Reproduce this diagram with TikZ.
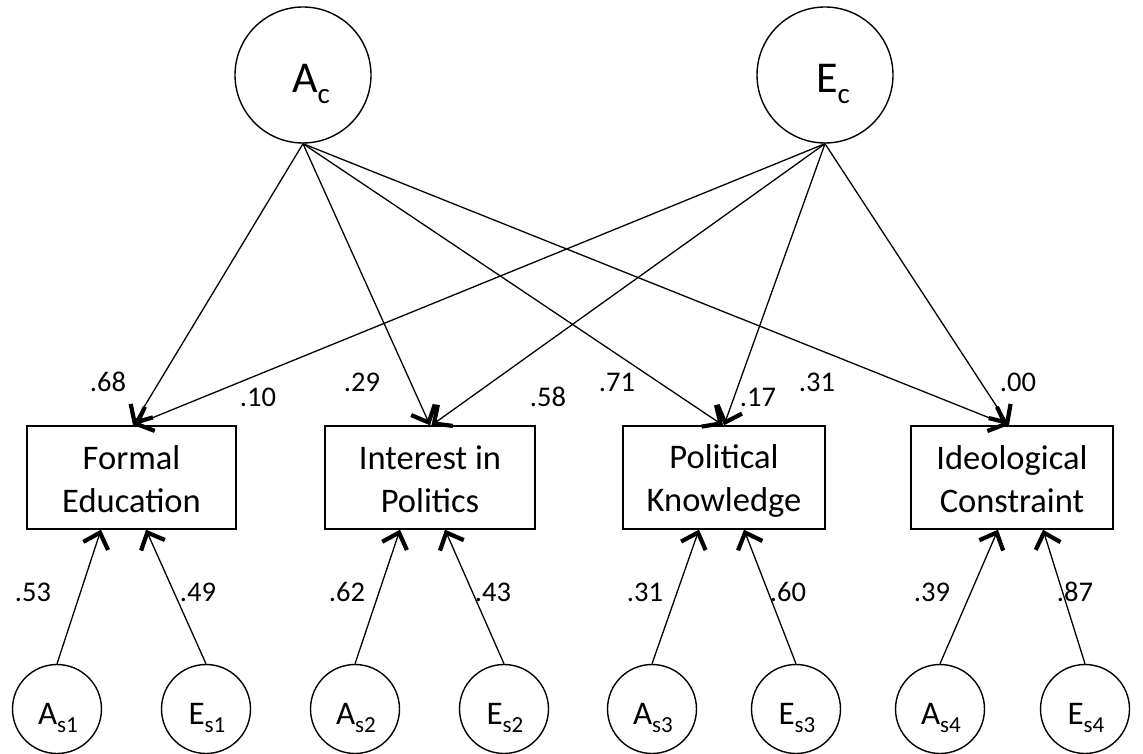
\documentclass[tikz,border=0pt]{standalone}
\usepackage{fontspec}
\setmainfont{Carlito}
\usetikzlibrary{arrows.meta,calc}
\newcommand{\bigsub}[2]{{\fontsize{44}{44}\selectfont #1}\raisebox{-11pt}{\fontsize{29}{29}\selectfont #2}}
\newcommand{\smallsub}[2]{{\fontsize{33}{33}\selectfont #1}\raisebox{-8pt}{\fontsize{23}{23}\selectfont #2}}
\newcommand{\boxstrut}{\rule[-4pt]{0pt}{34pt}}
\begin{document}
\begin{tikzpicture}[x=1pt,y=-1pt,
  latent/.style={draw,circle,line width=1.4pt,inner sep=0pt},
  biglatent/.style={latent,minimum size=136pt},
  smalllatent/.style={latent,minimum size=89pt},
  obsbox/.style={draw,rectangle,line width=1.4pt,minimum height=103pt,inner sep=0pt,align=center,font=\fontsize{34.5}{43}\selectfont},
  path/.style={line width=1.3pt,-{Straight Barb[length=14pt,width=26pt,line width=4.2pt]}},
  lab/.style={font=\fontsize{28.5}{28.5}\selectfont,inner sep=0pt}]
\useasboundingbox (0,0) rectangle (1143,754);
% top latent factors
\node[biglatent] (Ac) at (303,75) {};
\node[biglatent] (Ec) at (825,75) {};
\node at ([xshift=8pt,yshift=-9pt]Ac.center) (Actext) {\bigsub{A}{c}};
\node at ([xshift=8pt,yshift=-9pt]Ec.center) (Ectext) {\bigsub{E}{c}};
% observed boxes
\node[obsbox,minimum width=209pt] (fe) at (131.5,477.5) {\boxstrut Formal\\\boxstrut Education};
\node[obsbox,minimum width=210pt] (ip) at (430,477.5) {\boxstrut Interest in\\\boxstrut Politics};
\node[obsbox,minimum width=202pt] (pk) at (724,477.5) {\boxstrut Political\\\boxstrut Knowledge};
\node[obsbox,minimum width=202pt] (ic) at (1012,477.5) {\boxstrut Ideological\\\boxstrut Constraint};
% bottom latent factors
\node[smalllatent] (as1) at (57,709) {};
\node[smalllatent] (es1) at (206,709) {};
\node[smalllatent] (as2) at (355,709) {};
\node[smalllatent] (es2) at (504,709) {};
\node[smalllatent] (as3) at (652,709) {};
\node[smalllatent] (es3) at (796,709) {};
\node[smalllatent] (as4) at (940,709) {};
\node[smalllatent] (es4) at (1085,709) {};
\foreach \n/\l/\s in {as1/A/s1,es1/E/s1,as2/A/s2,es2/E/s2,as3/A/s3,es3/E/s3,as4/A/s4,es4/E/s4}
  \node at ([xshift=1pt,yshift=-9pt]\n.center) (\n text) {\smallsub{\l}{\s}};
% top paths
\draw[path] (Ac.south) -- ([xshift=1.5pt]fe.north);
\draw[path] (Ac.south) -- (ip.north);
\draw[path] (Ac.south) -- ([xshift=-1pt]pk.north);
\draw[path] (Ac.south) -- ([xshift=-4pt]ic.north);
\draw[path] (Ec.south) -- ([xshift=2.5pt]fe.north);
\draw[path] (Ec.south) -- ([xshift=1.5pt]ip.north);
\draw[path] (Ec.south) -- ([xshift=0pt]pk.north);
\draw[path] (Ec.south) -- ([xshift=-3pt]ic.north);
% bottom paths
\draw[path] (as1.north) -- ([xshift=-30.5pt]fe.south);
\draw[path] (es1.north) -- ([xshift=14.5pt]fe.south);
\draw[path] (as2.north) -- ([xshift=-30pt]ip.south);
\draw[path] (es2.north) -- ([xshift=15pt]ip.south);
\draw[path] (as3.north) -- ([xshift=-25pt]pk.south);
\draw[path] (es3.north) -- ([xshift=20pt]pk.south);
\draw[path] (as4.north) -- ([xshift=-14pt]ic.south);
\draw[path] (es4.north) -- ([xshift=31pt]ic.south);
% coefficient labels
\node[lab] (l68) at (108,382) {.68};
\node[lab] (l10) at (258,397) {.10};
\node[lab] (l29) at (362,382) {.29};
\node[lab] (l58) at (548,397) {.58};
\node[lab] (l71) at (617,382) {.71};
\node[lab] (l17) at (758,397) {.17};
\node[lab] (l31) at (817,382) {.31};
\node[lab] (l00) at (1018,382) {.00};
\node[lab] (l53) at (33,592) {.53};
\node[lab] (l49) at (198,592) {.49};
\node[lab] (l62) at (347,592) {.62};
\node[lab] (l43) at (493,592) {.43};
\node[lab] (l31b) at (645,592) {.31};
\node[lab] (l60) at (788,592) {.60};
\node[lab] (l39) at (932,592) {.39};
\node[lab] (l87) at (1075,592) {.87};
\end{tikzpicture}
\end{document}
